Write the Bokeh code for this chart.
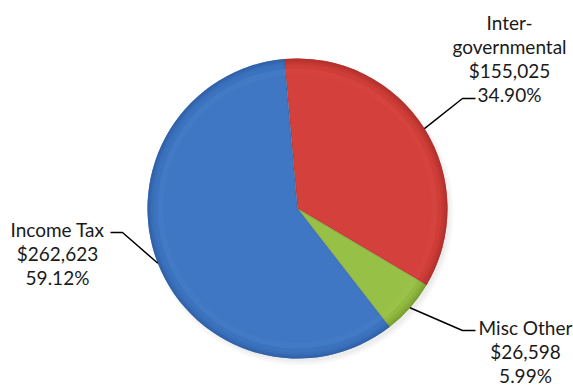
import math
from bokeh.plotting import figure
from bokeh.models import ColumnDataSource
from bokeh.core.properties import value
from bokeh.embed import file_html
from bokeh.resources import INLINE

# ---- data ----
categories = ["Inter-\ngovernmental", "Misc Other", "Income Tax"]
amounts = [155025, 26598, 262623]

# ---- style ----
base_colors = ["#D4403B", "#97C046", "#3F77C4"]
rim_colors = ["#A52C28", "#6F9128", "#2C5A9E"]
light_colors = ["#E05A54", "#AED35E", "#5A8FD6"]
W, H = 573, 386
cx, cy, R = 297, 178, 150
start_deg = 95.0  # first slice starts slightly left of 12 o'clock, runs clockwise
label_pos = [(509, 328), (525, 35), (57, 133)]      # label block centres (y up)
elbow_pos = [(462, 288), (462, 56), (122, 154)]
hook_end = [(475, 288), (475, 56), (110, 154)]
font = "Lato"
fsize = "19px"

total = sum(amounts)
pcts = [a / total * 100 for a in amounts]
labels = [f"{c}\n${a:,}\n{p:.2f}%" for c, a, p in zip(categories, amounts, pcts)]

starts, ends, mids = [], [], []
ang = start_deg
for a in amounts:
    sweep = a / total * 360.0
    starts.append(math.radians(ang))
    ends.append(math.radians(ang - sweep))
    mids.append(math.radians(ang - sweep / 2))
    ang -= sweep

p = figure(width=W, height=H, x_range=(0, W), y_range=(0, H),
           x_axis_location=None, y_axis_location=None,
           toolbar_location=None, output_backend="svg", min_border=0)
p.grid.visible = False
p.outline_line_color = None
p.background_fill_color = "white"

# soft shadow
for i, al in enumerate([0.05, 0.05, 0.06]):
    p.circle(x=[cx + 3], y=[cy - 4], radius=[R + 3 - i * 2], fill_color="#808080",
             fill_alpha=al, line_color=None)

src = ColumnDataSource(dict(start=starts, end=ends, base=base_colors,
                            rim=rim_colors, light=light_colors))
p.wedge(x=cx, y=cy, radius=R, start_angle="start", end_angle="end",
        direction="clock", fill_color="base", line_color=None, source=src)
# bevel rim: progressively darker toward the edge
for r0, al in [(R - 10, 0.12), (R - 6, 0.2), (R - 3.5, 0.3), (R - 1.5, 0.4)]:
    p.annular_wedge(x=cx, y=cy, inner_radius=r0, outer_radius=R,
                    start_angle="start", end_angle="end", direction="clock",
                    fill_color="rim", fill_alpha=al, line_color=None, source=src)
# soft highlight just inside rim
p.annular_wedge(x=cx, y=cy, inner_radius=R - 16, outer_radius=R - 10,
                start_angle="start", end_angle="end", direction="clock",
                fill_color="light", fill_alpha=0.15, line_color=None, source=src)
# slice separators
for a in starts:
    p.segment(x0=[cx], y0=[cy], x1=[cx + R * math.cos(a)], y1=[cy + R * math.sin(a)],
              line_color="#000000", line_alpha=0.12, line_width=1.5)

# leader lines
for m, (ex, ey), (hx, hy) in zip(mids, elbow_pos, hook_end):
    px, py = cx + R * math.cos(m), cy + R * math.sin(m)
    p.line(x=[px, ex, hx], y=[py, ey, hy], line_color="black", line_width=1.5)

tsrc = ColumnDataSource(dict(x=[l[0] for l in label_pos], y=[l[1] for l in label_pos],
                             text=labels))
p.text(x="x", y="y", text="text", source=tsrc, text_align="center",
       text_baseline="middle", text_font=value(font), text_font_size=fsize,
       text_color="#1a1a1a", text_line_height=1.05)

open("out.html", "w").write(file_html(p, INLINE))
